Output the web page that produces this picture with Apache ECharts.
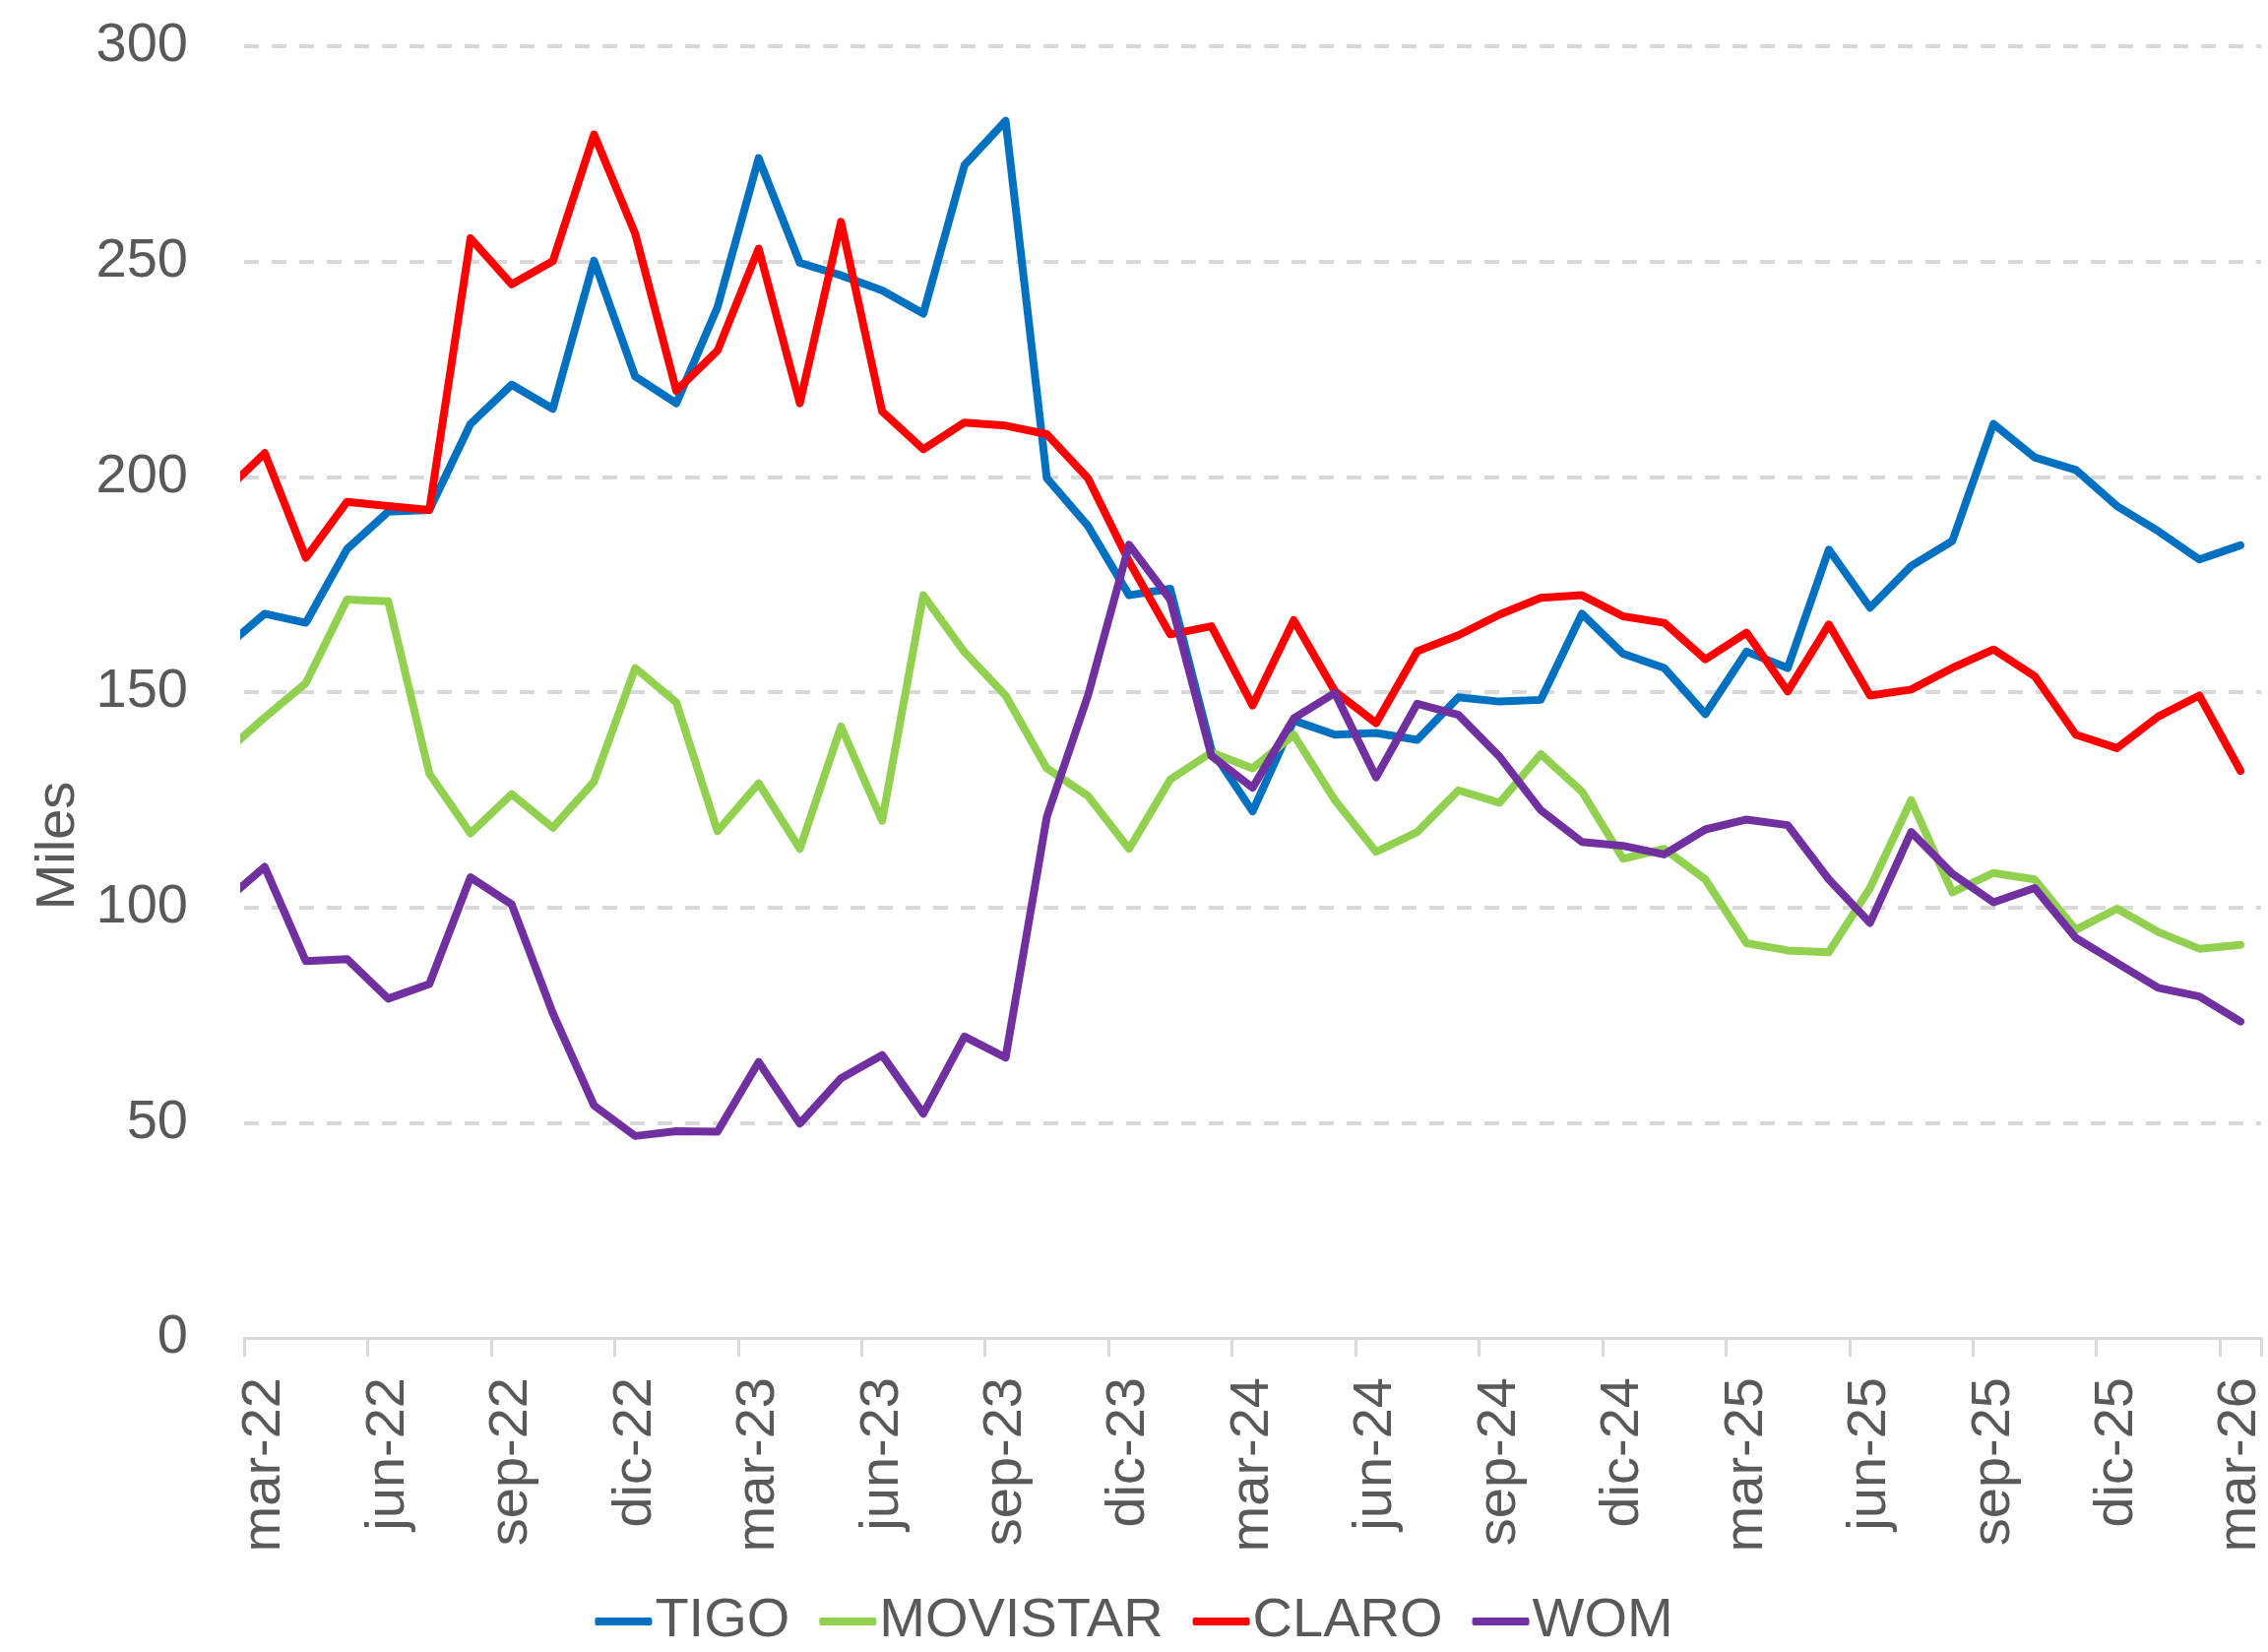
<!DOCTYPE html>
<html>
<head>
<meta charset="utf-8">
<script src="https://cdn.jsdelivr.net/npm/echarts@6/dist/echarts.min.js"></script>
<style>
html,body{margin:0;padding:0;background:#fff;}
#chart{width:2304px;height:1678px;}
</style>
</head>
<body>
<div id="chart"></div>
<script>
const categories = [
  'feb-22','mar-22','abr-22','may-22','jun-22','jul-22','ago-22','sep-22','oct-22','nov-22','dic-22',
  'ene-23','feb-23','mar-23','abr-23','may-23','jun-23','jul-23','ago-23','sep-23','oct-23','nov-23','dic-23',
  'ene-24','feb-24','mar-24','abr-24','may-24','jun-24','jul-24','ago-24','sep-24','oct-24','nov-24','dic-24',
  'ene-25','feb-25','mar-25','abr-25','may-25','jun-25','jul-25','ago-25','sep-25','oct-25','nov-25','dic-25',
  'ene-26','feb-26','mar-26'
];
const tigo = [160, 168.2,166.1,183.2,191.9,192.3,212.3,221.4,215.8,250.2,223.3,217.1,239.4,274,249.7,246.8,243.3,237.9,272.4,282.7,199.7,188.6,172.5,174,136.6,122.3,143.4,140.1,140.5,138.9,148.8,147.8,148.2,168.2,158.9,155.6,144.9,159.4,155.6,183.1,169.6,179.3,185.1,212.3,204.5,201.6,193.2,187.4,180.8,184.1];
const movistar = [135.6, 144.1,152.1,171.5,171.1,131.1,117.2,126.3,118.5,129.2,155.6,147.6,117.7,128.8,113.6,142,120.1,172.5,159.3,149.2,132.3,125.9,113.6,129.7,136,132.3,140.1,124.9,112.9,117.5,127.2,124.3,135.6,126.9,111.3,113.6,106.5,91.7,90,89.6,104.5,124.9,103.5,108,106.5,94.8,99.7,94.3,90.4,91.3];
const claro = [196.3, 205.5,181.2,194.2,193.2,192.3,255.4,244.7,250.1,279.5,256.5,220,229.3,253,217.1,259.2,215.2,206.4,212.6,211.9,209.9,199.7,180.3,163.4,165.3,146.9,166.7,150.2,142.8,159.5,163.2,168,171.9,172.5,167.6,166.1,157.6,163.8,150.2,165.7,149.2,150.6,155.6,159.9,153.7,140.1,137,144.3,149.2,131.7];
const wom = [101.2, 109.4,87.5,88,78.8,82.2,107,100.7,75.4,54,46.9,48,47.9,64.1,49.8,60.3,65.7,52.1,70,65.1,121,149.2,184.2,171.5,135.2,127.8,143.9,149.8,130.2,147.3,144.7,135,122.6,115.2,114.3,112.3,118.1,120.4,119.1,106.5,96.4,117.5,107.8,101.2,104.5,92.9,87.1,81.3,79.3,73.5];
const yTicks = {min: 0, max: 300, interval: 50};

const FONT = "'Liberation Sans Narrow','Arial Narrow','Liberation Sans',Arial,sans-serif";
const TXT = '#595959';
const FS = 56;
const chart = echarts.init(document.getElementById('chart'));

function quarterly(index) { return index >= 1 && (index - 1) % 3 === 0; }

function mk(name, data, color) {
  return {
    name: name, type: 'line', data: data, symbol: 'none', clip: true,
    lineStyle: {color: color, width: 8, cap: 'round', join: 'round'},
    itemStyle: {color: color}
  };
}

chart.setOption({
  animation: false,
  backgroundColor: '#ffffff',
  grid: {left: 248, right: 3, top: 47, bottom: 319, containLabel: false},
  xAxis: {
    type: 'category', data: categories, boundaryGap: true, min: 1, max: 49, z: 2,
    axisLine: {show: true, lineStyle: {color: '#d9d9d9', width: 3}},
    axisTick: {show: true, length: 19, interval: quarterly, lineStyle: {color: '#d9d9d9', width: 3}},
    axisLabel: {interval: quarterly, rotate: 90, margin: 40, fontSize: FS, color: TXT, fontFamily: FONT},
    splitLine: {show: false}
  },
  yAxis: {
    type: 'value', min: yTicks.min, max: yTicks.max, interval: yTicks.interval,
    axisLine: {show: false}, axisTick: {show: false},
    axisLabel: {fontSize: FS, color: TXT, margin: 57, fontFamily: FONT},
    splitLine: {show: true, showMinLine: false, lineStyle: {color: '#d9d9d9', width: 4, type: [15, 13]}}
  },
  legend: {
    top: 1614, left: 'center', itemWidth: 58, itemHeight: 8, itemGap: 30, icon: 'roundRect',
    textStyle: {fontSize: FS, color: TXT, fontFamily: FONT, padding: [0, 0, 0, -2]},
    data: ['TIGO', 'MOVISTAR', 'CLARO', 'WOM']
  },
  graphic: [{
    type: 'text', x: 60, y: 859, rotation: Math.PI / 2,
    style: {text: 'Miles', fontSize: FS, fill: TXT, fontFamily: FONT, align: 'center', verticalAlign: 'middle'}
  }],
  series: [
    mk('TIGO', tigo, '#0070C0'),
    mk('MOVISTAR', movistar, '#92D050'),
    mk('CLARO', claro, '#FF0000'),
    mk('WOM', wom, '#7030A0')
  ]
});
</script>
</body>
</html>
